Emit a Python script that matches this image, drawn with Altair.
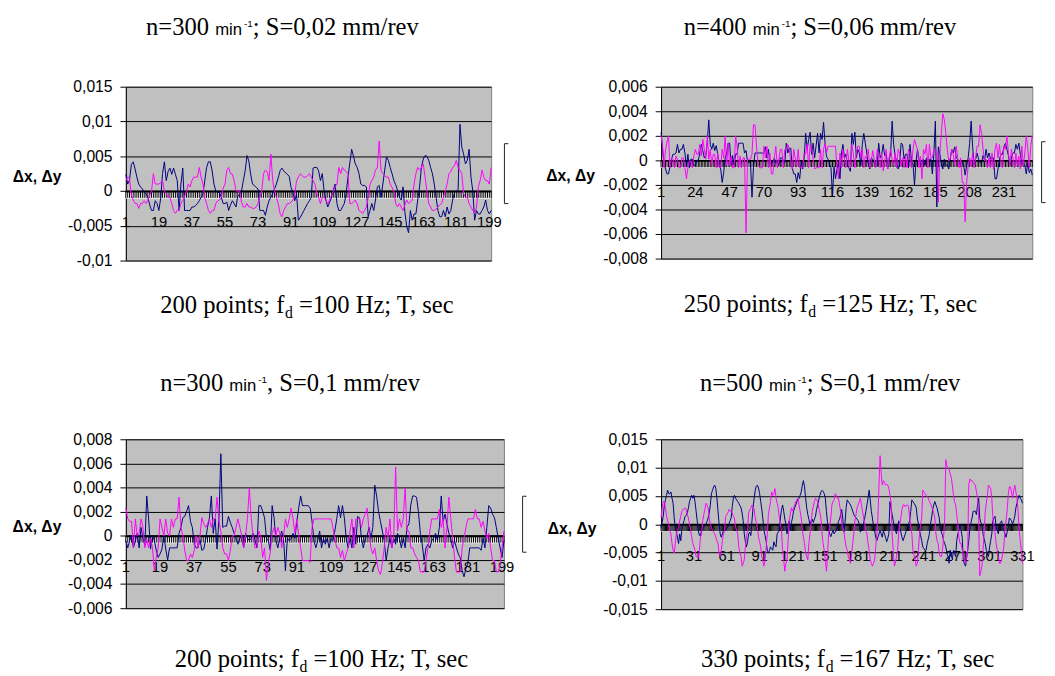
import altair as alt
import pandas as pd

# ---------------- data (units: 0.001 mm) ----------------
P1_DX = [
    2.4, 1.0, 1.6, 3.8, 4.2, 3.2, 2.0, 1.0, 0.6, 0.3,
    -0.2, -0.4, -0.9, -2.0, -2.8, -2.8, -1.4, -1.8, -2.8, -1.0,
    2.5, 4.2, 1.5, 2.8, 3.3, 2.4, 3.3, 2.4, 1.5, -2.8,
    1.0, 3.3, -2.8, -2.8, -2.8, -2.8, -2.3, -2.3, -2.1, -1.8,
    -1.4, -0.9, -0.4, 1.5, 3.4, 4.2, 4.2, 2.9, 1.0, 0.0,
    -0.2, -0.2, -0.9, -1.8, -1.8, -1.6, -2.8, -2.0, -1.4, -1.8,
    -2.3, -0.7, -0.5, 0.0, 1.5, 2.9, 5.1, 4.3, 2.4, 1.0,
    0.8, 0.5, 0.3, -2.8, -2.8, -2.8, -3.5, -2.3, -1.4, -0.9,
    -0.4, 0.3, 1.0, 1.9, 2.9, 3.3, 2.9, 2.6, 2.4, 2.1,
    0.5, -0.2, -1.4, -0.4, -4.2, -3.8, -3.3, -2.8, -2.3, -1.8,
    -1.4, -0.9, 3.3, 3.4, 3.4, 2.9, 1.5, 2.5, 0.0, -1.3,
    -2.3, -1.6, -1.0, 0.1, 1.0, -1.8, -2.8, -2.8, -2.3, -1.8,
    -0.4, 2.0, 4.0, 6.0, 5.0, 3.9, 3.4, 2.5, 1.0, 0.8,
    0.8, 0.6, -3.7, -2.8, -1.8, -2.8, -1.3, 0.6, 0.8, -0.9,
    1.0, 3.0, 4.9, 4.4, 3.4, 2.5, 1.5, 0.9, 0.1, -0.9,
    -1.3, 0.6, -3.0, -5.1, -6.0, -2.8, -4.2, -3.3, -3.3, -1.3,
    0.6, 3.4, 4.6, 5.1, 5.0, 4.4, 3.4, 2.5, 1.0, -0.9,
    -2.8, -3.7, -3.7, -2.8, -3.7, -2.3, -3.3, -2.8, -1.3, -0.2,
    0.0, 0.2, 9.6, 6.3, 5.3, 3.9, 4.4, 6.0, 2.0, 0.0,
    -4.2, -2.8, -3.3, -3.3, -2.8, -2.3, -1.3, -2.8, -3.3, -2.8,
]
P1_DY = [
    1.5, 2.0, 1.8, -0.6, -1.3, -1.8, -1.8, -2.5, -1.8, -1.8,
    -1.4, -1.8, -1.4, -0.6, 0.0, 2.5, 1.0, 1.0, 1.0, 1.2,
    1.5, 0.0, -0.4, -0.9, -0.9, -1.8, -2.8, -3.2, -2.8, -2.8,
    -1.8, -1.4, -0.8, 0.0, 1.0, 0.6, 1.5, 2.0, 2.0, 2.0,
    3.4, 2.0, 1.0, -1.0, -1.8, -2.8, -3.2, -2.8, -2.8, -1.8,
    -1.4, -1.3, -0.9, 0.4, 1.0, 3.0, 3.4, 2.5, 2.4, 1.5,
    0.0, 0.0, 0.0, -1.6, -2.3, -2.3, -1.8, -2.3, -2.3, -2.5,
    -2.5, -2.3, -1.8, -0.9, 0.0, 2.5, 3.0, 2.8, 1.5, 5.3,
    1.5, 0.0, -0.9, -1.8, -3.2, -3.7, -2.8, -2.3, -1.8, -1.8,
    -1.6, -1.3, -0.5, 1.5, 2.0, 2.5, 2.2, 2.0, 2.0, 2.2,
    2.5, 2.0, 1.5, 1.0, -0.4, -0.9, -1.8, -0.9, -0.9, -1.4,
    -1.8, -1.3, -0.6, 0.0, 0.6, 1.0, 3.4, 2.5, 3.4, 3.0,
    2.8, 2.5, -1.8, -1.8, -1.6, -1.3, -1.8, -2.8, -3.0, -3.2,
    -2.8, -2.3, -1.0, 1.0, 1.5, 2.0, 3.0, 3.4, 7.2, 3.0,
    2.5, 2.2, 2.0, 2.0, 1.0, 0.5, 0.0, -1.8, -2.3, -1.8,
    -2.3, -2.8, -2.0, -1.3, -1.8, -1.6, -1.3, 1.0, 2.5, 3.4,
    3.0, 3.4, 3.9, 2.0, 0.0, -1.8, -2.3, -2.8, -2.8, -2.6,
    -2.3, -2.0, -1.8, -0.9, 0.0, 1.0, 2.5, 2.8, 3.4, 3.6,
    4.4, 3.4, 3.0, 2.5, -0.4, -0.9, -0.9, -1.8, -2.3, -2.8,
    -3.2, -2.3, 0.6, 1.5, 3.0, 2.0, 1.5, 1.5, 1.0, 3.4,
]
P2_DX = [
    2.3, 0.9, -0.3, -0.7, -1.1, -1.1, -0.5, 0.1, 0.5, 0.5,
    0.6, 1.3, 0.6, 0.9, 0.9, 1.3, 0.6, -0.5, 0.5, -0.6,
    0.1, 0.1, -0.4, -0.4, 0.0, 0.0, 0.6, 1.3, 0.8, 0.2,
    0.4, 1.4, 3.3, 1.3, 0.9, 1.4, 0.8, 1.2, 0.5, -0.3,
    -0.7, -1.8, -1.0, 0.2, 0.6, 1.4, 1.4, -0.4, 0.4, -0.4,
    0.5, 0.5, 1.4, 1.4, 1.4, 1.4, 0.6, 0.8, -0.1, -0.2,
    -0.2, -3.0, -0.5, 0.6, 0.6, 0.6, 0.6, 0.6, 0.6, 0.6,
    1.1, 0.2, 0.9, -0.2, -0.2, -0.2, 0.2, -0.2, -0.2, -0.4,
    0.2, 0.2, -0.2, -0.2, 1.4, 0.6, 1.0, 1.0, -0.6, -1.1,
    -1.1, -1.8, -1.0, -1.5, -0.1, -0.7, 0.2, 2.2, 0.9, 1.7,
    2.3, 0.5, 1.4, 0.2, 1.2, 2.2, 0.6, 2.2, 1.7, 3.1,
    1.4, 0.3, 0.1, -0.3, -0.6, -2.9, -0.5, -1.5, -0.7, -0.2,
    -1.5, 0.6, 1.3, 0.2, 0.5, -0.4, -0.6, -0.9, 2.2, 1.3,
    2.3, 0.2, 0.9, 0.6, -0.4, 1.3, 2.2, 1.4, 0.6, -0.3,
    -0.7, 0.2, 0.1, -0.2, -0.4, -0.4, 1.4, 0.2, 0.5, 1.3,
    0.4, 0.6, -0.7, 0.0, 0.6, 3.2, 1.3, 0.4, -0.1, -0.7,
    -0.4, 1.4, 1.3, 0.1, 0.5, 0.5, -0.6, 1.3, -0.1, -0.3,
    -2.0, -0.1, 0.9, 0.1, -0.3, -0.3, 0.1, -0.4, 0.2, -0.1,
    0.1, 0.1, -1.1, 0.6, 3.2, -3.8, 1.1, 0.5, -0.2, -0.7,
    0.1, -0.4, -0.4, -0.7, 0.1, 0.9, 0.6, 1.1, 0.2, 0.1,
    -0.4, -0.2, -0.2, -0.4, -1.2, -0.4, 0.2, 1.4, 3.2, 1.1,
    -0.4, 0.1, 0.6, 0.1, -0.2, -0.2, 0.4, 0.0, 0.9, 0.2,
    0.6, 0.1, 0.2, 0.2, -1.5, -1.5, -0.7, 0.1, 0.5, 0.5,
    1.1, 1.4, 0.9, 0.4, -0.4, 0.2, 0.6, 0.6, 1.3, 0.9,
    1.4, 0.5, -0.2, -0.4, -0.4, -1.1, -0.2, -1.0, -0.7, -1.2,
]
P2_DY = [
    2.0, 1.2, -0.6, 0.9, 1.5, 2.0, -0.6, 0.2, 0.1, -0.6,
    0.35, 0.1, -0.6, -0.6, 0.2, 0.2, -0.6, -1.5, -0.6, -0.05,
    -0.05, -0.6, 0.35, 0.9, 0.5, 0.5, 1.3, 0.35, 1.7, 0.9,
    0.1, 2.0, 0.1, 0.9, -0.45, 0.5, 0.5, -0.6, 0.6, -0.6,
    -0.6, 0.9, 0.2, 2.0, -0.45, 1.4, -0.45, 0.35, -0.6, -0.6,
    2.0, 1.15, -0.6, 0.35, -0.6, 0.2, 0.2, -5.9, 0.1, 0.1,
    0.1, 0.5, 2.9, 2.9, 1.15, -0.2, -0.6, -0.6, -0.6, 1.15,
    0.2, 1.15, -0.6, 0.6, -1.1, -1.1, 0.2, 1.15, -0.6, 0.1,
    0.9, 0.9, -0.6, 0.9, 0.9, 1.3, 0.9, -0.05, -0.7, 0.9,
    0.2, -0.45, 0.9, -0.6, -0.6, -0.6, 0.6, 0.5, 1.3, -0.6,
    1.3, 1.1, 0.1, -0.7, -0.6, -0.6, -0.6, 0.9, -0.6, 0.9,
    1.4, 0.6, 1.15, 1.15, 1.15, 1.15, 1.15, 1.15, -0.6, -1.5,
    0.6, -0.6, 0.9, 0.1, -0.6, 0.9, -0.05, -0.6, 1.3, 0.5,
    -0.6, 0.6, 1.15, 1.15, 0.2, 0.9, -0.6, 0.35, 0.1, 0.9,
    -0.6, -0.05, 0.8, 0.1, -0.6, 0.9, 0.2, -0.6, 0.6, -0.85,
    -0.05, 0.9, -0.7, 0.2, 0.9, 0.1, -0.45, 0.6, -0.6, 0.9,
    0.6, -0.45, 0.2, -0.6, 0.35, -0.6, 0.9, 0.5, -0.6, 0.9,
    1.7, 1.3, 0.9, -0.6, 0.35, -1.5, 0.9, 0.5, 1.3, -0.6,
    1.3, 0.2, 0.2, 0.9, 0.9, 0.6, -3.4, 0.5, 2.2, 3.8,
    3.3, 2.2, 0.9, -0.05, 0.2, 0.9, 0.5, -0.45, 1.15, 0.2,
    -0.6, 0.2, -1.8, -1.8, -5.0, -1.8, -0.45, 0.2, -0.45, 0.6,
    -0.6, 0.2, 1.15, 1.15, 2.9, 2.2, 0.9, -0.05, 0.1, -0.6,
    0.2, -0.6, 0.6, -0.7, 0.9, 1.4, 0.2, 1.3, -0.05, -0.6,
    1.15, 0.9, 2.0, 0.6, -0.45, 0.9, 0.2, -0.6, 0.6, -0.45,
    0.35, -0.7, 1.15, -0.45, 0.6, 2.0, 0.9, -0.6, 1.15, 2.0,
]
P3_DX = [
    -0.4, -1.0, -0.4, 0.0, -1.0, -0.4, 0.2, -1.0, 0.7, -0.2,
    -0.8, 3.3, 1.4, -1.1, 0.0, -0.4, -1.2, -1.8, -1.5, -1.1,
    0.0, -1.1, -2.0, -1.0, -1.0, -1.0, -1.0, -1.0, 0.2, 0.7,
    1.5, 1.6, 2.05, 2.5, 1.2, 0.7, -0.7, -1.0, -1.0, -0.3,
    -1.2, -1.1, -0.3, 0.7, 1.5, 3.3, 0.2, 1.4, -1.1, 1.4,
    6.8, 0.7, 0.8, 0.8, 1.6, 1.1, 0.7, 0.2, -0.2, -0.7,
    -0.2, 0.0, -1.0, 0.2, -0.2, -0.4, -0.2, 0.2, -0.4, -1.0,
    2.5, 2.5, 2.05, 1.5, -0.2, -0.4, -1.2, 2.5, 1.5, -0.4,
    -1.0, -0.2, 0.4, -0.2, -2.9, -0.2, -0.4, -0.2, 0.2, -0.2,
    1.2, 2.3, 3.3, 2.5, 2.5, 2.5, 2.5, 2.3, 1.2, -0.4,
    -1.0, -0.4, 0.4, -1.0, -0.2, -0.7, -0.2, -1.0, -0.2, -0.4,
    0.4, 1.4, 2.5, 1.5, 2.5, 1.5, -0.2, -1.0, -0.2, -1.0,
    0.7, -0.7, 1.6, 1.5, -0.2, -1.0, -0.2, 0.0, 0.7, -0.2,
    0.7, 4.2, 3.3, 2.0, 1.2, 0.4, -0.4, -2.05, -1.0, -0.2,
    -1.0, -0.2, -0.7, 0.2, -0.2, -1.0, -0.2, -1.0, 0.7, 1.0,
    2.6, 3.3, 3.3, 3.2, 2.0, 0.2, -0.7, -2.05, -1.0, -0.7,
    -1.0, -0.4, -0.2, 0.2, -0.4, 0.7, 3.3, 1.2, 1.8, 1.0,
    0.2, -0.2, -1.0, -0.4, -1.0, -1.5, -1.8, -2.9, -3.4, -2.7,
    -2.3, -1.0, -1.0, -1.0, -1.0, -1.0, -1.0, -1.2, -0.2, -1.0,
    0.7, 2.5, 2.3, 1.8, 1.5, 0.7, -0.2, -1.0, -1.8, -0.4,
]
P3_DY = [
    2.3, 1.4, 1.2, 1.2, -1.0, 1.4, 0.0, 0.2, 1.4, 0.7,
    -1.0, -0.3, -1.0, -0.2, -1.0, -2.9, -1.8, -1.0, 1.4, 0.7,
    0.0, 1.4, 0.2, 0.0, 1.4, 0.7, 1.4, 1.4, 3.2, 0.7,
    0.0, -1.2, -2.05, -2.05, -1.5, -1.8, -1.2, 0.0, -1.0, 0.0,
    1.5, 1.0, 0.7, 1.0, 1.4, 0.7, 1.4, 1.4, 3.2, 1.2,
    0.4, -1.0, -1.5, -1.5, -2.05, -1.2, 0.0, 0.0, 0.7, 1.4,
    0.7, 0.0, -1.0, 0.0, 1.4, 4.0, 1.4, 0.0, -1.0, -1.0,
    0.4, 0.0, -1.8, -1.0, -3.7, -2.3, -1.4, 0.2, 0.7, 0.0,
    0.7, 0.2, -1.0, 0.0, 1.4, 0.7, 1.4, 2.3, 1.4, 0.2,
    1.4, 0.0, -1.0, -2.05, -2.05, -2.05, -2.05, -2.2, 0.7, 1.4,
    1.4, 1.4, 1.4, 1.4, 1.4, 1.4, 1.4, 1.4, 1.4, 0.7,
    -0.2, -1.0, -1.0, -1.8, -1.2, -2.05, -1.5, -1.0, 0.4, 1.4,
    -1.0, 1.4, 1.4, 1.4, 0.7, 1.4, 1.8, 2.3, 0.4, -1.0,
    -1.5, -1.0, -2.05, -2.9, -3.2, -2.3, -1.0, 0.7, -0.2, 1.4,
    -1.0, 0.0, 5.7, 0.4, 1.4, 0.7, 1.4, 4.0, 0.4, 0.4,
    -1.0, -1.0, -1.5, -1.8, -2.05, -3.0, -3.0, -3.0, -2.05, -1.0,
    0.4, 1.4, 1.4, 1.4, 1.4, 2.2, 0.7, 1.4, -1.0, 0.7,
    3.2, 1.5, -0.2, -1.8, -3.0, -3.0, -3.0, -1.0, -0.2, 0.7,
    1.4, 1.4, 1.4, 1.4, 2.2, 1.4, 1.4, 0.7, 1.2, 0.4,
    -0.2, 0.2, -1.0, -2.05, -2.05, -3.0, -3.0, -2.3, -1.0, 0.4,
]
P4_DX = [
    -0.6, 0.3, 1.4, 3.4, 4.3, 5.1, 6.0, 5.4, 5.4, 5.7,
    4.6, 3.7, 1.1, -0.6, -1.4, -2.3, -3.4, -1.7, -2.9, -0.9,
    0.0, 0.6, 1.4, 1.6, 2.0, 2.9, 4.0, 4.6, 5.1, 4.6,
    5.1, 4.0, 2.3, 0.6, -1.1, -2.0, -2.0, -1.1, -0.9, -0.5,
    -0.3, 0.0, 0.5, 1.1, 2.0, 3.4, 5.4, 6.0, 6.6, 6.9,
    6.3, 4.6, 2.3, 0.0, -1.7, -2.3, -1.7, -1.1, -0.9, -1.0,
    -0.7, -0.5, 0.1, 0.6, 1.1, 3.1, 4.6, 5.1, 4.6, 4.3,
    4.0, 3.7, 3.3, 2.9, 2.0, 0.6, -1.7, -3.1, -4.0, -3.1,
    -1.7, -1.4, -2.0, 0.6, 2.9, 4.6, 6.0, 6.7, 6.9, 6.4,
    5.4, 4.0, 2.6, 0.9, -1.1, -2.0, -3.1, -4.6, -5.1, -4.6,
    -4.0, -4.3, -4.6, -3.1, -3.7, -4.0, -1.7, -1.4, -1.1, 1.1,
    2.6, 3.4, 2.3, 0.9, 0.0, -1.7, -0.6, 0.6, -1.1, 0.3,
    1.1, 2.3, 2.9, 3.4, 4.0, 4.3, 4.6, 5.1, 5.7, 6.9,
    7.7, 6.6, 4.6, 2.9, 1.7, 0.9, -0.3, 0.6, 0.9, 0.3,
    0.9, 1.4, 2.6, 3.4, 4.3, 5.1, 5.7, 6.0, 5.8, 5.4,
    4.6, 2.3, 0.3, -0.9, -1.7, -2.2, -1.6, -1.1, -1.7, -1.4,
    -1.1, -0.5, 0.5, 0.9, 1.7, 2.6, 0.9, -1.4, 0.3, 2.9,
    4.3, 4.0, 3.7, 3.4, 2.9, 2.3, 1.7, 1.4, 1.1, 0.9,
    0.6, 0.0, -1.4, -1.0, -0.6, 0.3, 1.1, 2.3, 3.4, 4.6,
    6.0, 4.3, 2.3, 1.1, -0.3, -1.1, -2.3, -2.9, -2.3, -1.7,
    -1.1, -1.7, -2.3, -1.1, -1.7, -2.3, -3.1, -2.5, -1.7, 4.0,
    2.9, 1.7, 0.6, -0.3, -1.1, -1.7, -0.6, 0.6, -0.6, -1.4,
    -2.3, -2.9, -2.3, -1.7, -1.1, -0.6, 0.0, 0.6, 2.3, 4.3,
    4.0, 3.7, 3.4, 2.9, 1.1, 0.0, -1.1, -2.0, -2.9, -4.0,
    -4.3, -4.6, -4.6, -3.4, -2.6, -1.7, 0.0, 1.1, 2.6, 3.4,
    4.0, 3.4, 2.9, 2.0, 1.1, -0.6, -1.4, -2.0, -2.9, -3.4,
    -4.0, -5.1, -5.7, -6.9, -4.6, -5.4, -6.3, -4.6, -5.1, -5.7,
    -2.9, -1.7, -1.1, 0.0, -1.1, -2.3, -6.3, -7.0, -7.4, -6.0,
    -4.6, -2.9, -0.6, 0.3, 1.1, 2.3, 2.3, 2.3, 1.7, 3.4,
    4.6, 1.1, 0.3, 0.0, -1.7, -2.6, -3.4, -4.6, -5.1, -5.7,
    -4.0, -2.9, -1.7, 0.6, 1.1, 1.4, -0.6, -1.1, -1.7, 0.0,
    0.3, 0.6, -0.6, -1.1, -1.7, -2.3, -1.4, -0.6, 1.1, 0.9,
    0.6, 0.0, 0.6, 1.4, 2.9, 3.7, 4.6, 5.1, 4.6, 4.3,
    3.7,
]
P4_DY = [
    1.1, 2.9, 4.0, 4.0, 2.9, 1.4, 0.6, 0.0, -1.1, -1.7,
    -3.4, -4.6, -5.1, -3.4, -1.7, -1.1, -0.6, 0.6, 1.4, 2.3,
    2.6, 2.6, 2.9, 2.6, 1.7, 1.1, 0.0, -1.1, -2.3, -3.4,
    -4.0, -4.6, -5.7, -5.7, -6.0, -4.6, -2.3, -1.7, 0.6, 1.7,
    2.6, 3.7, 3.4, 2.9, 1.1, 0.0, -0.6, -1.1, -1.4, -1.7,
    -2.3, -2.9, -3.4, -5.1, -5.7, -4.6, -2.9, -1.7, -1.1, 1.4,
    1.7, 2.0, 2.6, 2.3, 2.3, 2.0, 1.4, 1.1, -0.6, -1.1,
    -1.7, -4.0, -5.1, -5.7, -7.4, -6.9, -6.3, -4.0, -2.3, -1.1,
    2.0, 2.6, 2.9, 3.4, 3.1, 2.6, 1.1, 0.3, -0.6, -2.3,
    -3.1, -4.0, -5.7, -6.6, -7.4, -6.3, -4.0, -1.7, 1.7, 2.9,
    4.0, 5.7, 5.1, 5.4, 6.3, 4.6, 3.7, 2.9, 1.1, 0.0,
    -1.1, -4.6, -6.3, -8.3, -6.9, -6.3, -2.9, 0.6, 1.7, 2.9,
    2.3, 2.9, 3.4, 4.0, 4.3, 4.6, 3.4, 2.3, 1.1, -1.1,
    -2.3, -3.4, -5.1, -5.7, -6.3, -3.4, -1.7, 0.0, 2.3, 3.1,
    4.0, 4.6, 4.3, 4.0, 2.9, 2.0, 1.1, -1.7, -3.4, -4.6,
    -6.3, -8.3, -5.7, -1.7, -0.3, 1.1, 3.4, 4.0, 4.3, 5.4,
    5.1, 4.6, 4.6, 3.4, 2.3, 0.0, -0.6, -1.1, -2.9, -4.0,
    -4.6, -5.7, -6.3, -6.9, -5.1, -3.4, -1.7, 0.6, 1.7, 2.9,
    3.4, 4.0, 4.6, 3.4, 2.3, 1.1, 0.0, -1.1, -1.7, -3.4,
    -4.6, -6.3, -6.9, -7.4, -6.9, -6.3, -4.0, -1.7, 1.1, 6.9,
    12.1, 9.1, 6.9, 7.7, 7.4, 6.9, 7.1, 6.9, 6.3, 5.1,
    4.0, -1.7, -4.6, -7.4, -6.9, -5.7, -4.6, -1.7, 0.0, 1.1,
    2.6, 3.4, 3.4, 3.1, 3.4, 3.4, 3.1, 1.1, -0.3, -1.7,
    -4.6, -5.4, -6.3, -7.4, -6.9, -4.6, -1.7, 0.0, 1.1, 6.0,
    5.7, 5.4, 5.1, 4.9, 4.6, 4.0, 3.7, 3.1, 2.6, 2.0,
    1.1, -1.7, -2.9, -3.4, -5.1, -5.7, -5.7, -4.6, -2.3, 1.1,
    11.4, 10.3, 10.0, 9.7, 8.9, 8.3, 6.9, 5.1, 4.0, 3.4,
    1.7, 0.0, -2.3, -3.4, -3.4, -4.6, -5.4, -6.3, -6.9, -5.7,
    -4.6, 6.9, 8.0, 7.7, 7.7, 7.4, 7.1, 6.9, 5.7, 4.6,
    1.1, -9.1, -8.3, -7.4, -4.6, -1.7, 2.3, 3.7, 5.1, 6.9,
    6.6, 6.3, 4.6, 1.1, -0.3, -1.7, -3.4, -4.6, -5.7, -6.9,
    -6.9, -6.3, -5.1, -4.0, -1.1, 0.6, 2.3, 5.1, 6.6, 6.6,
    5.7, 4.6, 6.0, 6.9, 5.7, 4.6, 2.3, -1.1, -2.9, -4.6,
    -6.9,
]

P1_XLABELS = [1, 19, 37, 55, 73, 91, 109, 127, 145, 163, 181, 199]
P2_XLABELS = [1, 24, 47, 70, 93, 116, 139, 162, 185, 208, 231]
P3_XLABELS = [1, 19, 37, 55, 73, 91, 109, 127, 145, 163, 181, 199]
P4_XLABELS = [1, 31, 61, 91, 121, 151, 181, 211, 241, 271, 301, 331]

P1_YTICKS = [-0.01, -0.005, 0, 0.005, 0.01, 0.015]
P2_YTICKS = [-0.008, -0.006, -0.004, -0.002, 0, 0.002, 0.004, 0.006]
P3_YTICKS = [-0.006, -0.004, -0.002, 0, 0.002, 0.004, 0.006, 0.008]
P4_YTICKS = [-0.015, -0.01, -0.005, 0, 0.005, 0.01, 0.015]

TITLES_N = ["n=300", "n=400", "n=300", "n=500"]
TITLES_S = ["; S=0,02 mm/rev", "; S=0,06 mm/rev", ", S=0,1 mm/rev", "; S=0,1 mm/rev"]
CAPTIONS_A = ["200 points; f", "250 points; f", "200 points; f", "330 points; f"]
CAPTIONS_B = ["=100 Hz; T, sec", "=125 Hz; T, sec", "=100 Hz; T, sec", "=167 Hz; T, sec"]

# ---------------- styling ----------------
NAVY = "#000080"
MAGENTA = "#FF00FF"
SERIF = "Liberation Serif"
SANS = "Liberation Sans"
ONE = pd.DataFrame({"k": [0]})


def txt(text, x, y, font=SERIF, size=25, weight="normal", align="left", color="black"):
    return alt.Chart(ONE).mark_text(
        text=text, font=font, fontSize=size, fontWeight=weight,
        align=align, baseline="alphabetic", color=color
    ).encode(x=alt.value(x), y=alt.value(y))


def seg(x1, y1, x2, y2, color="black", width=1.0):
    return alt.Chart(ONE).mark_rule(color=color, strokeWidth=width).encode(
        x=alt.value(x1), y=alt.value(y1), x2=alt.value(x2), y2=alt.value(y2)
    )


def panel(k, dx, dy, xlabels, yticks, w, h, tx, ty, cx, cy, lx, ly, bracket=None, anchor=False):
    n = len(dx)
    ydom = [yticks[0], yticks[-1]]
    xscale = alt.Scale(domain=[1, n], nice=False, zero=False)
    yscale = alt.Scale(domain=ydom, nice=False, zero=False)
    yaxis = alt.Axis(
        values=yticks, title=None,
        labelExpr="replace(toString(datum.value), '.', ',')",
        labelFont=SANS, labelFontSize=16, labelColor="black",
        labelPadding=8, labelOverlap=False,
        tickColor="black", tickSize=6, tickWidth=1,
        domainColor="black", domainWidth=1,
        grid=True, gridColor="black", gridWidth=1,
    )
    X = alt.X("i:Q", scale=xscale, axis=None)
    Y = alt.Y("v:Q", scale=yscale, axis=yaxis)

    idx = list(range(1, n + 1))
    df_x = pd.DataFrame({"i": idx, "v": [v / 1000 for v in dx]})
    df_y = pd.DataFrame({"i": list(range(1, len(dy) + 1)), "v": [v / 1000 for v in dy]})
    df_t = pd.DataFrame({"i": idx, "v": [0.0] * n})
    df_b = pd.DataFrame({"i": [1], "i2": [n], "v": [0.0]})
    df_l = pd.DataFrame({"i": xlabels, "v": [0.0] * len(xlabels), "t": [str(a) for a in xlabels]})

    band = alt.Chart(df_b).mark_rule(color="white", strokeWidth=7, yOffset=4).encode(x=X, x2="i2:Q", y=Y)
    ticks = alt.Chart(df_t).mark_rule(color="black", strokeWidth=1, y2Offset=7).encode(x=X, y=Y, y2=alt.Y2("v:Q"))
    zero = alt.Chart(df_b).mark_rule(color="black", strokeWidth=2, yOffset=0.5).encode(x=X, x2="i2:Q", y=Y)
    labs = alt.Chart(df_l).mark_text(
        font=SANS, fontSize=15, color="black", align="center", baseline="alphabetic", dy=37
    ).encode(x=X, y=Y, text="t:N")
    line_x = alt.Chart(df_x).mark_line(color=NAVY, strokeWidth=1).encode(x=X, y=Y)
    line_y = alt.Chart(df_y).mark_line(color=MAGENTA, strokeWidth=1).encode(x=X, y=Y)

    layers = [band, ticks, zero, labs, line_x, line_y]
    layers += [
        txt(TITLES_N[k], tx, ty),
        txt("min", tx + 70.4, ty, font=SANS, size=17),
        txt("-1", tx + 99.8, ty - 8, font=SANS, size=10),
        txt(TITLES_S[k], tx + 108.7, ty),
        txt(CAPTIONS_A[k], cx, cy),
        txt("d", cx + 127.0, cy + 5, size=16),
        txt(CAPTIONS_B[k], cx + 141.2, cy),
        txt("\u0394x, \u0394y", lx, ly, font=SANS, size=16, weight="bold"),
    ]
    if bracket is not None:
        bx, b1, b2 = bracket
        layers += [
            seg(bx, b1, bx, b2, color="#222222"),
            seg(bx, b1, bx + 4, b1, color="#222222"),
            seg(bx, b2, bx + 4, b2, color="#222222"),
        ]
    if anchor:
        layers.append(seg(-118.5, -72.5, -118.5, -72, color="white", width=1))
    return alt.layer(*layers).properties(width=w, height=h)


p1 = panel(0, P1_DX, P1_DY, P1_XLABELS, P1_YTICKS, 372, 177,
           20.6, -53, 35, 230.4, -115.2, 97.5, bracket=(385.5, 58, 119), anchor=True)
p2 = panel(1, P2_DX, P2_DY, P2_XLABELS, P2_YTICKS, 378, 175,
           23, -53, 23, 229.4, -117, 96, bracket=(387.5, 56, 118))
p3 = panel(2, P3_DX, P3_DY, P3_XLABELS, P3_YTICKS, 385, 172,
           35, -49.5, 49.8, 232.3, -115.3, 94.8, bracket=(404, 58, 115))
p4 = panel(3, P4_DX, P4_DY, P4_XLABELS, P4_YTICKS, 368, 173,
           39.6, -49.5, 40.6, 232.3, -115.5, 96.4)

chart = alt.concat(
    p1, p2, p3, p4, columns=2,
    spacing={"row": 182, "column": 160},
    bounds="flush",
    align={"row": "each", "column": "none"},
    padding=0,
).configure_view(
    stroke="#808080", strokeWidth=1, fill="#C0C0C0"
)

chart.save("out.html", embed_options={"renderer": "svg", "actions": False})
